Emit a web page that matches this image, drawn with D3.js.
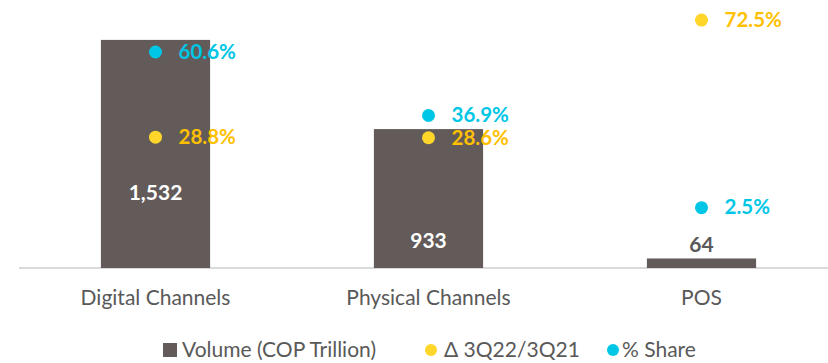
<!DOCTYPE html>
<html>
<head>
<meta charset="utf-8">
<script src="https://cdn.jsdelivr.net/npm/d3@7"></script>
<style>
  body { margin: 0; background: #fff; }
  svg { display: block; font-family: Lato, "Open Sans", sans-serif; }
</style>
</head>
<body>
<svg id="chart"></svg>
<script>
// chart values
const categories = ['Digital Channels', 'Physical Channels', 'POS'];
const volume = [1532, 933, 64];
const volumeLabels = ['1,532', '933', '64'];
const growth = [28.8, 28.6, 72.5];   // Δ 3Q22/3Q21 (%)
const share = [60.6, 36.9, 2.5];     // % Share
const legendLabels = ['Volume (COP Trillion)', 'Δ 3Q22/3Q21', '% Share'];

const W = 828, H = 363;
const margin = {top: 0, right: 0, bottom: 95, left: 19};
const plotH = H - margin.top - margin.bottom;

const colors = {bar: '#625b5a', growth: '#ffd629', growthText: '#ffc000', share: '#00c6e6', text: '#595959', axis: '#d9d9d9'};

const svg = d3.select('#chart').attr('width', W).attr('height', H);
const g = svg.append('g').attr('transform', 'translate(' + margin.left + ',' + margin.top + ')');

const x = d3.scaleBand().domain(categories).range([0, 819]).paddingInner(0.6).paddingOuter(0.3);
const y = d3.scaleLinear().domain([0, 1800]).range([plotH, 0]);
const y2 = d3.scaleLinear().domain([-20, 80]).range([plotH, 0]);

// baseline
g.append('line')
  .attr('x1', 0).attr('x2', W).attr('y1', plotH).attr('y2', plotH)
  .attr('stroke', colors.axis).attr('stroke-width', 2);

// bars
g.selectAll('rect.bar').data(categories).join('rect')
  .attr('class', 'bar')
  .attr('x', d => x(d))
  .attr('width', x.bandwidth())
  .attr('y', (d, i) => y(volume[i]))
  .attr('height', (d, i) => plotH - y(volume[i]))
  .attr('fill', colors.bar);

// bar value labels: inside for big bars, above for small ones
const inside = v => y(0) - y(v) > 60;
g.selectAll('text.vol').data(categories).join('text')
  .attr('class', 'vol')
  .attr('x', d => x(d) + x.bandwidth() / 2)
  .attr('y', (d, i) => inside(volume[i]) ? y(volume[i] * (i === 0 ? 0.33 : 0.2)) : y(volume[i]) - 14)
  .attr('dy', '0.35em')
  .attr('text-anchor', 'middle')
  .attr('font-size', 21).attr('font-weight', 700)
  .attr('fill', (d, i) => inside(volume[i]) ? '#fff' : colors.text)
  .text((d, i) => volumeLabels[i]);

// dots + labels
function dots(values, fill, textFill, cls) {
  const sel = g.selectAll('g.' + cls).data(categories).join('g').attr('class', cls)
    .attr('transform', (d, i) => 'translate(' + (x(d) + x.bandwidth() / 2) + ',' + y2(values[i]) + ')');
  sel.append('circle').attr('r', 6.5).attr('fill', fill);
  sel.append('text')
    .attr('x', 23).attr('dy', '0.33em')
    .attr('font-size', 20.5).attr('font-weight', 700)
    .attr('fill', textFill)
    .text((d, i) => values[i].toFixed(1) + '%');
}
dots(growth, colors.growth, colors.growthText, 'growth');
dots(share, colors.share, colors.share, 'share');

// category axis
const xAxis = d3.axisBottom(x).tickSize(0).tickPadding(22);
g.append('g').attr('transform', 'translate(0,' + plotH + ')').call(xAxis)
  .call(a => a.select('.domain').remove())
  .selectAll('text')
  .attr('font-size', 21).attr('font-family', 'Lato, "Open Sans", sans-serif')
  .attr('fill', colors.text);

// legend
const legend = svg.append('g').attr('transform', 'translate(0,350)');
const legendX = [163, 425, 607];
legendLabels.forEach((lab, i) => {
  const item = legend.append('g').attr('transform', 'translate(' + legendX[i] + ',0)');
  if (i === 0) {
    item.append('rect').attr('x', 0).attr('y', -7).attr('width', 14).attr('height', 14).attr('fill', colors.bar);
  } else {
    item.append('circle').attr('cx', 6).attr('r', 6).attr('fill', i === 1 ? colors.growth : colors.share);
  }
  item.append('text').attr('x', i === 0 ? 19 : (i === 1 ? 19 : 15)).attr('dy', '0.35em')
    .attr('font-size', 21).attr('fill', colors.text).text(lab);
});
</script>
</body>
</html>
